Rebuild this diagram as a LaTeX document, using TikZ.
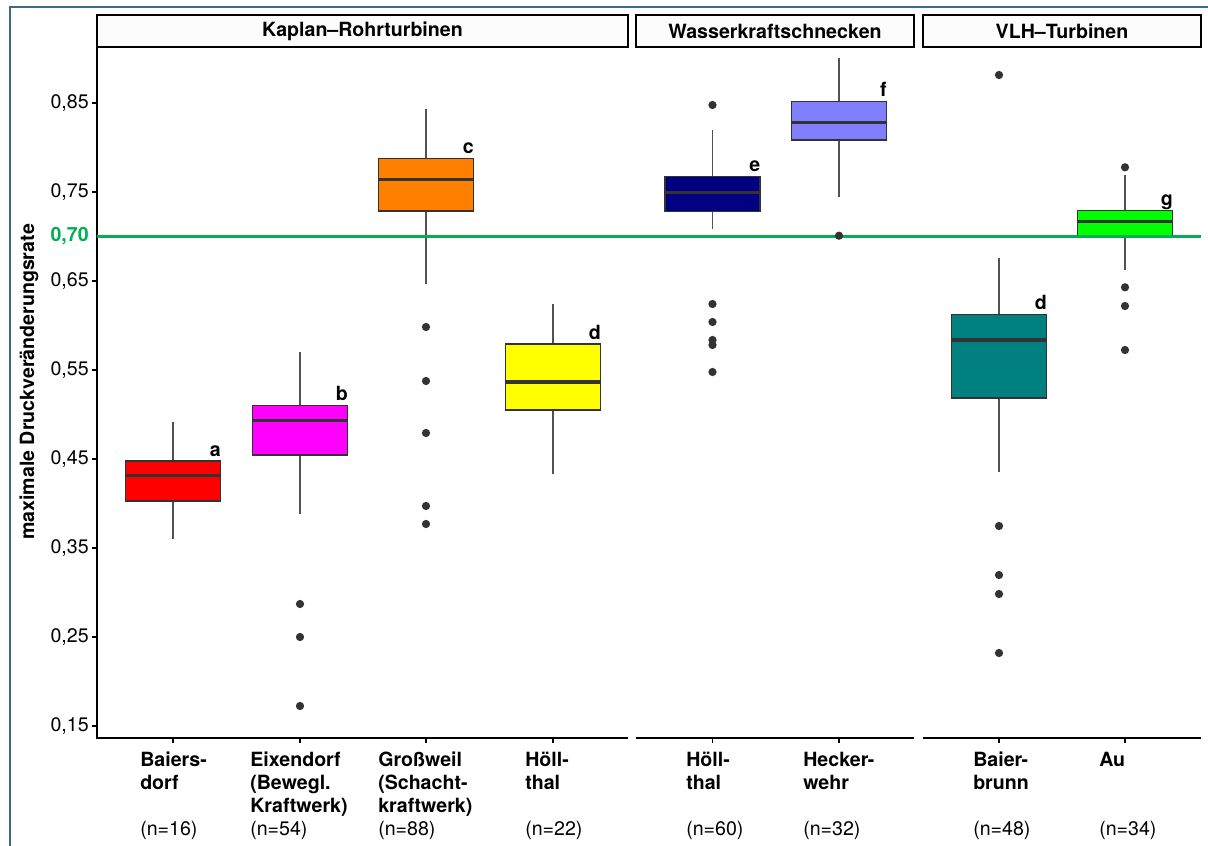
\documentclass[tikz,border=0pt]{standalone}
\usepackage{fontspec}
\setmainfont{TeX Gyre Heros}
\definecolor{frame}{HTML}{3F6B88}
\definecolor{refgreen}{HTML}{00B050}
\definecolor{dk}{HTML}{333333}
\definecolor{cred}{HTML}{FF0000}
\definecolor{cmag}{HTML}{FF00FF}
\definecolor{corange}{HTML}{FF8000}
\definecolor{cyellow}{HTML}{FFFF00}
\definecolor{cnavy}{HTML}{000080}
\definecolor{lblue}{HTML}{8080FF}
\definecolor{cteal}{HTML}{008080}
\definecolor{cgreen}{HTML}{00FF00}
\definecolor{stripfill}{HTML}{FCFCFC}
\newcommand\fnt{\fontsize{14.7}{17.25}\selectfont}
\newcommand\boxp[8]{%
  \draw[whisk] (#1,#2) -- (#1,#3);
  \draw[whisk] (#1,#5) -- (#1,#6);
  \filldraw[boxst, fill=#7] (#1-47.5,#3) rectangle (#1+47.5,#5);
  \draw[med] (#1-47.5,#4) -- (#1+47.5,#4);
  \node[letter] (#8) at (#1+48,#3-5) {#8};
}
\begin{document}
\begin{tikzpicture}[x=0.75pt,y=-0.75pt,
  whisk/.style={draw=dk!85, line width=0.9pt},
  boxst/.style={draw=dk, line width=0.9pt},
  med/.style={draw=dk, line width=2.3pt},
  outl/.style={fill=dk},
  axisln/.style={line width=1.1pt, black},
  strip/.style={draw=black, line width=1.6pt, fill=stripfill},
  striptxt/.style={font=\fnt\bfseries},
  letter/.style={anchor=base east, inner sep=0pt, font=\fnt\bfseries},
  ticklab/.style={anchor=east, inner sep=0pt, font=\fnt},
  catlab/.style={anchor=north west, inner sep=0pt, align=left, font=\fnt\bfseries},
  nlab/.style={anchor=base west, inner sep=0pt, font=\fnt}]
\useasboundingbox (0,0) rectangle (1208,846);
\fill[white] (0,0) rectangle (1208,846);
% outer frame
\draw[frame, line width=1.6pt] (10,846) -- (10,7) -- (1208,7);

% strips
\draw[strip] (97,15) rectangle (628,47);
\node[striptxt] (s1) at (362.5,31) {Kaplan–Rohrturbinen};
\draw[strip] (636,15) rectangle (914,47);
\node[striptxt] (s2) at (775,31) {Wasserkraftschnecken};
\draw[strip] (923,15) rectangle (1201,47);
\node[striptxt] (s3) at (1062,31) {VLH–Turbinen};

% axes
\draw[axisln] (97,47) -- (97,738) -- (628,738);
\draw[axisln] (636,738) -- (914,738);
\draw[axisln] (923,738) -- (1201,738);
\foreach \y/\t in {103/{0,85},192/{0,75},281/{0,65},370/{0,55},459/{0,45},548/{0,35},637/{0,25},726/{0,15}}{
  \draw[axisln] (92,\y) -- (97,\y);
  \node[ticklab] at (89,\y) {\t};
}
\node[ticklab, text=refgreen, font=\fnt\bfseries] (l70) at (89,236.5) {0,70};
\foreach \x in {173,300,426,553,712.5,839,999,1125}{
  \draw[axisln] (\x,738) -- (\x,742.5);
}
\node[rotate=90, font=\fnt\bfseries] (ytitle) at (29,382) {maximale Druckveränderungsrate};

% boxplots
\boxp{173}{422}{461}{475.5}{501}{539}{cred}{a}
\boxp{300}{351.5}{405.5}{420.5}{455}{513.5}{cmag}{b}
\boxp{426}{109}{158.3}{179.3}{211}{284.3}{corange}{c}
\boxp{553}{304}{344}{382}{410}{474}{cyellow}{d}
\boxp{712.5}{130}{176.7}{192.7}{211.7}{229.3}{cnavy}{e}
\boxp{839}{58.3}{101.7}{122.3}{140}{196.7}{lblue}{f}
\boxp{999}{258.3}{314.7}{340}{398}{472}{cteal}{d}
\boxp{1125}{175}{210.3}{221.3}{235.7}{270}{cgreen}{g}

% outliers
\foreach \x/\y in {300/604,300/637,300/706,
  426/327,426/381,426/433,426/506,426/524,
  712.5/105,712.5/304,712.5/322,712.5/340,712.5/345,712.5/372,
  999/75,999/526,999/575,999/594,999/653,
  1125/167.3,1125/287.3,1125/306,1125/350}{
  \fill[outl] (\x,\y) circle (3.1pt);
}

% reference line
\draw[refgreen, line width=2.2pt] (97,236.5) -- (1201,236.5);
\fill[outl] (839,235.7) circle (3.1pt);

% category labels
\node[catlab] (c1) at (140,750) {\strut Baiers-\\dorf};
\node[catlab] (c2) at (250,750) {\strut Eixendorf\\(Bewegl.\\Kraftwerk)};
\node[catlab] (c3) at (378,750) {\strut Großweil\\(Schacht-\\kraftwerk)};
\node[catlab] (c4) at (525,750) {\strut Höll-\\thal};
\node[catlab] (c5) at (686,750) {\strut Höll-\\thal};
\node[catlab] (c6) at (803,750) {\strut Hecker-\\wehr};
\node[catlab] (c7) at (973,750) {\strut Baier-\\brunn};
\node[catlab] (c8) at (1099,750) {\strut Au};
\node[nlab] (n1) at (140,835) {(n=16)};
\node[nlab] (n2) at (250,835) {(n=54)};
\node[nlab] (n3) at (378,835) {(n=88)};
\node[nlab] (n4) at (525,835) {(n=22)};
\node[nlab] (n5) at (686,835) {(n=60)};
\node[nlab] (n6) at (803,835) {(n=32)};
\node[nlab] (n7) at (973,835) {(n=48)};
\node[nlab] (n8) at (1099,835) {(n=34)};
\end{tikzpicture}
\end{document}
